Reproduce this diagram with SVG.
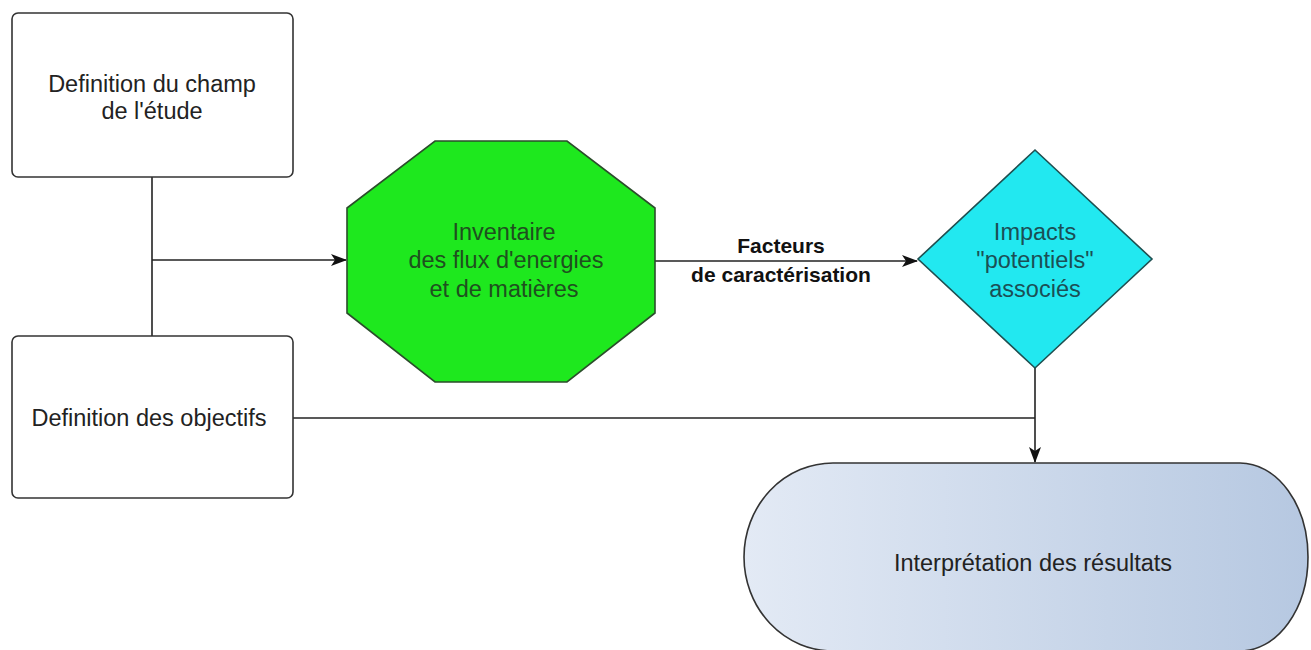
<svg xmlns="http://www.w3.org/2000/svg" width="1311" height="650" viewBox="0 0 1311 650">
<style>
.t{font-family:"Liberation Sans",Arial,sans-serif;font-size:23.5px;fill:#222;text-anchor:middle}
.b{font-family:"Liberation Sans",Arial,sans-serif;font-size:21px;font-weight:bold;fill:#111;text-anchor:middle}
.box{fill:#fff;stroke:#333;stroke-width:1.6}
.ln{fill:none;stroke:#222;stroke-width:1.6}
</style>
<defs>
<marker id="arr" viewBox="0 0 16 12" refX="15" refY="6" markerWidth="16" markerHeight="12" markerUnits="userSpaceOnUse" orient="auto">
<path d="M0,0 L16,6 L0,12 L4,6 Z" fill="#111"/>
</marker>
<linearGradient id="pg" x1="0" y1="0" x2="1" y2="0">
<stop offset="0" stop-color="#e3eaf5"/>
<stop offset="1" stop-color="#b6c8e1"/>
</linearGradient>
</defs>
<rect width="1311" height="650" fill="#fff"/>
<g id="connectors">
<path class="ln" d="M152,177 V336"/>
<path class="ln" d="M152,260 H346" marker-end="url(#arr)"/>
<path class="ln" d="M655,261 H917" marker-end="url(#arr)"/>
<path class="ln" d="M293,418 H1035"/>
<path class="ln" d="M1035,367 V462" marker-end="url(#arr)"/>
<text class="b" x="781" y="253">Facteurs</text>
<text class="b" x="781" y="282">de caractérisation</text>
</g>
<g id="champ">
<rect class="box" x="12" y="13" width="281" height="164" rx="6"/>
<text class="t" x="152" y="92">Definition du champ</text>
<text class="t" x="152" y="119">de l'étude</text>
</g>
<g id="objectifs">
<rect class="box" x="12" y="336" width="281" height="162" rx="6"/>
<text class="t" x="149" y="426">Definition des objectifs</text>
</g>
<g id="inventaire">
<polygon points="435,141 567,141 655,208 655,313 567,382 435,382 347,313 347,208" fill="#1ee81e" stroke="#2b4d2b" stroke-width="1.6"/>
<text class="t" x="504" y="240" style="fill:#1f4f1f">Inventaire</text>
<text class="t" x="506" y="268" style="fill:#1f4f1f">des flux d'energies</text>
<text class="t" x="504" y="297" style="fill:#1f4f1f">et de matières</text>
</g>
<g id="impacts">
<polygon points="1035,150 1152,259 1035,368 918,259" fill="#22e8f0" stroke="#1f4f50" stroke-width="1.6"/>
<text class="t" x="1035" y="240" style="fill:#1b4f55">Impacts</text>
<text class="t" x="1035" y="268" style="fill:#1b4f55">"potentiels"</text>
<text class="t" x="1035" y="297" style="fill:#1b4f55">associés</text>
</g>
<g id="interpretation">
<path d="M833,463 H1240 A68,94 0 0 1 1240,651 H833 A89,94 0 0 1 833,463 Z" fill="url(#pg)" stroke="#333" stroke-width="1.6"/>
<text class="t" x="1033" y="571">Interprétation des résultats</text>
</g>
</svg>
